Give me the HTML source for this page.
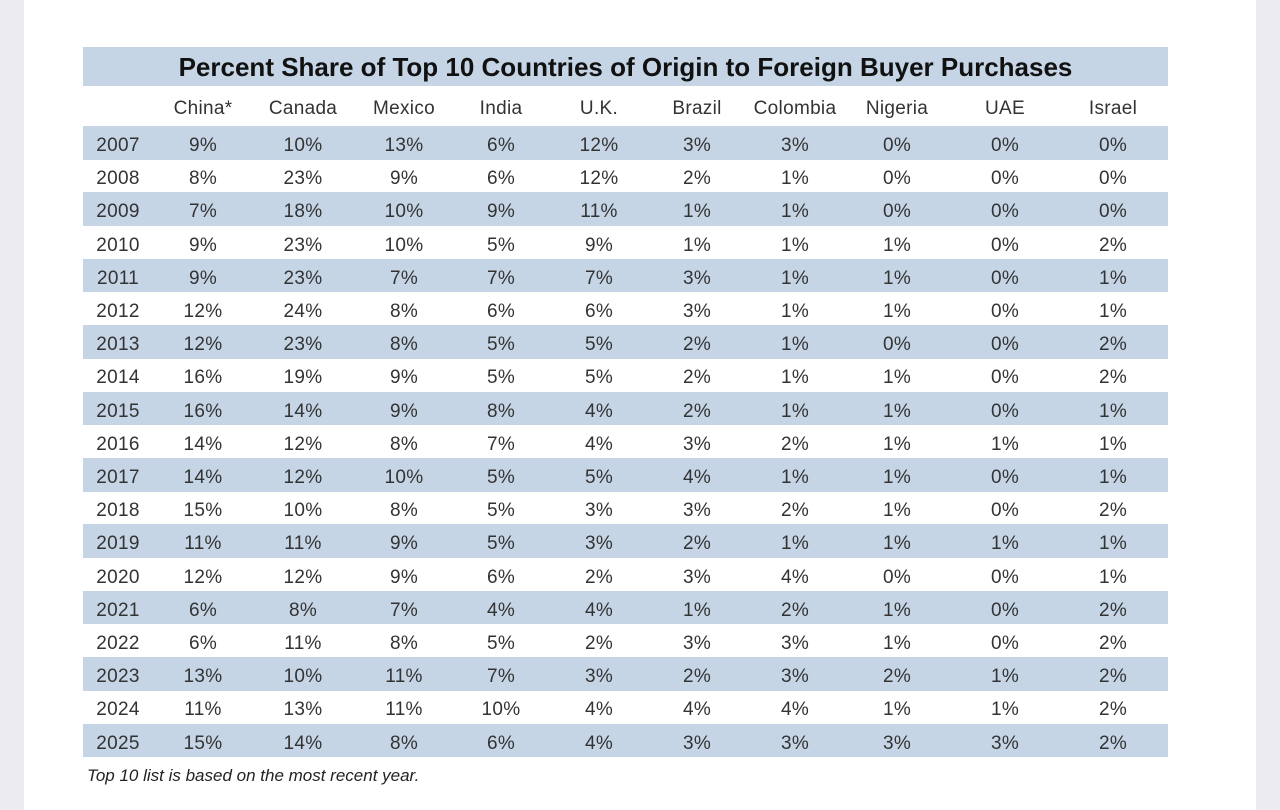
<!DOCTYPE html>
<html><head><meta charset="utf-8"><style>
body{margin:0;width:1280px;height:810px;background:#fff;position:relative;overflow:hidden;font-family:"Liberation Sans",sans-serif;color:#333}
.side{position:absolute;top:0;height:810px;width:24px;background:#ececf0}
.c{position:absolute;text-align:center;font-size:19px;line-height:33px;transform:translateX(-50%);white-space:nowrap;letter-spacing:0.3px}
.band{position:absolute;left:83px;width:1085px;background:#c5d5e6}
</style></head><body>
<div class="side" style="left:0"></div>
<div class="side" style="right:0"></div>
<div class="band" style="top:47px;height:39px"></div>
<div style="position:absolute;left:83px;width:1085px;top:47px;line-height:40px;text-align:center;font-weight:bold;font-size:26px;color:#111">Percent Share of Top 10 Countries of Origin to Foreign Buyer Purchases</div>
<div id="t"></div>
<div style="position:absolute;left:87px;top:766px;font-size:17px;font-style:italic;color:#222">Top 10 list is based on the most recent year.</div>
<script>
const countries=["China*","Canada","Mexico","India","U.K.","Brazil","Colombia","Nigeria","UAE","Israel"];
const years=[2007,2008,2009,2010,2011,2012,2013,2014,2015,2016,2017,2018,2019,2020,2021,2022,2023,2024,2025];
const china=[9,8,7,9,9,12,12,16,16,14,14,15,11,12,6,6,13,11,15];
const canada=[10,23,18,23,23,24,23,19,14,12,12,10,11,12,8,11,10,13,14];
const mexico=[13,9,10,10,7,8,8,9,9,8,10,8,9,9,7,8,11,11,8];
const india=[6,6,9,5,7,6,5,5,8,7,5,5,5,6,4,5,7,10,6];
const uk=[12,12,11,9,7,6,5,5,4,4,5,3,3,2,4,2,3,4,4];
const brazil=[3,2,1,1,3,3,2,2,2,3,4,3,2,3,1,3,2,4,3];
const colombia=[3,1,1,1,1,1,1,1,1,2,1,2,1,4,2,3,3,4,3];
const nigeria=[0,0,0,1,1,1,0,1,1,1,1,1,1,0,1,1,2,1,3];
const uae=[0,0,0,0,0,0,0,0,0,1,0,0,1,0,0,0,1,1,3];
const israel=[0,0,0,2,1,1,2,2,1,1,1,2,1,1,2,2,2,2,2];
const series=[china,canada,mexico,india,uk,brazil,colombia,nigeria,uae,israel];
const colX=[203,303,404,501,599,697,795,897,1005,1113];
const yearX=118,rowTop=126,rowH=33.2,headTop=92;
const t=document.getElementById('t');
countries.forEach((c,j)=>{
  const d=document.createElement('div');
  d.className='c';
  
  
  d.style.left=colX[j]+'px';d.style.top=headTop+'px';d.textContent=c;t.appendChild(d);
});
years.forEach((y,i)=>{
  const top=rowTop+i*rowH;
  if(i%2===0){
    const b=document.createElement('div');
    b.className='band';
    
    
    b.style.top=top+'px';b.style.height=(rowH+0.5)+'px';t.appendChild(b);
  }
  const yl=document.createElement('div');
  yl.className='c';
  
  
  yl.style.left=yearX+'px';yl.style.top=(top+3)+'px';yl.textContent=y;t.appendChild(yl);
  series.forEach((s,j)=>{
    const d=document.createElement('div');
    d.className='c';
    
    
    d.style.left=colX[j]+'px';d.style.top=(top+3)+'px';d.textContent=s[i]+'%';t.appendChild(d);
  });
});
</script>
</body></html>
